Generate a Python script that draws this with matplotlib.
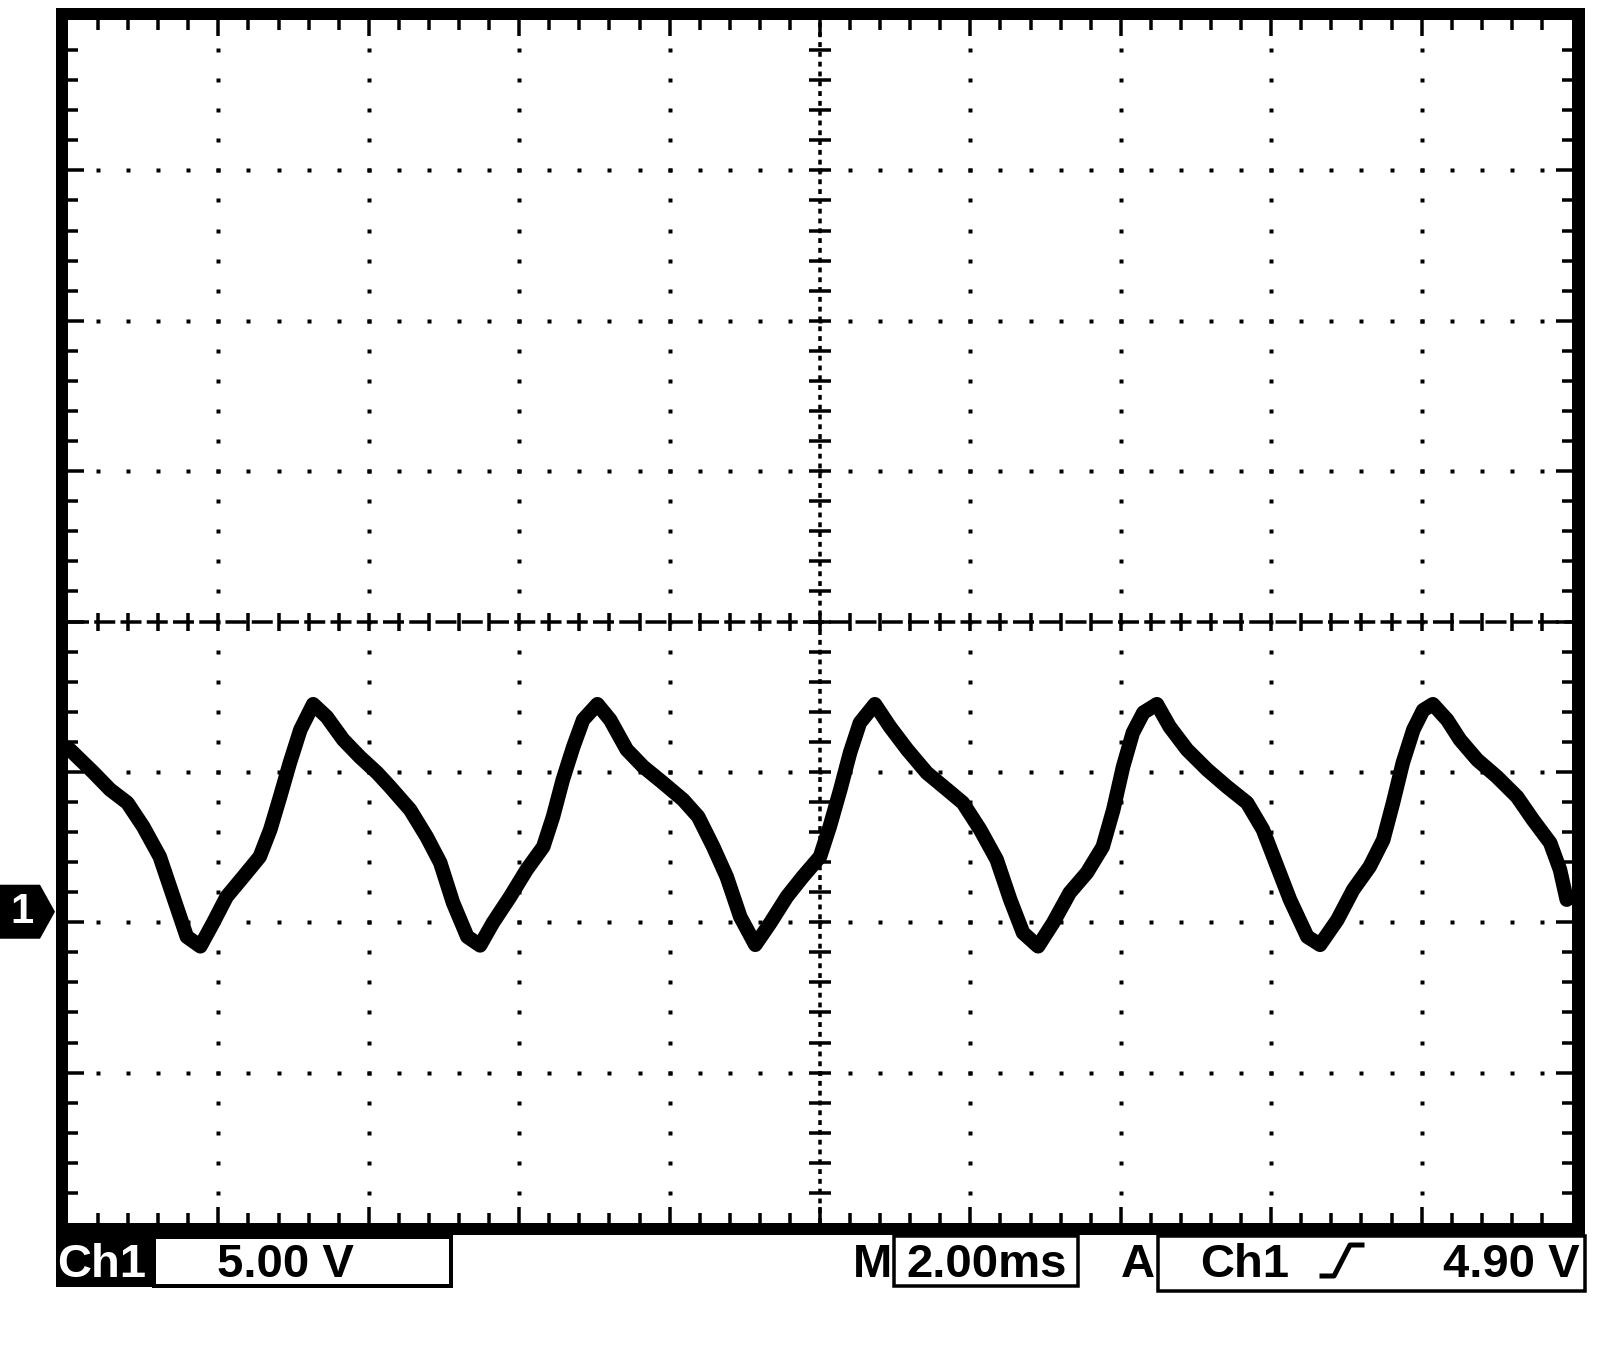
import matplotlib
matplotlib.use("Agg")
import matplotlib.pyplot as plt
from matplotlib.patches import Rectangle, Polygon
from matplotlib.lines import Line2D
from matplotlib.collections import LineCollection

time_ms = [0.00, 0.33, 0.56, 0.79, 1.00, 1.22, 1.40, 1.58, 1.76, 1.93,
           2.11, 2.33, 2.55, 2.69, 2.82, 2.95, 3.09, 3.26, 3.44, 3.66,
           3.88, 4.11, 4.28, 4.55, 4.77, 4.95, 5.12, 5.31, 5.48, 5.65,
           5.88, 6.10, 6.32, 6.45, 6.58, 6.72, 6.85, 7.04, 7.21, 7.43,
           7.65, 7.91, 8.18, 8.38, 8.58, 8.76, 8.94, 9.14, 9.34, 9.56,
           9.77, 10.00, 10.13, 10.27, 10.40, 10.53, 10.73, 10.93, 11.16, 11.42,
           11.69, 11.90, 12.13, 12.35, 12.53, 12.70, 12.90, 13.10, 13.32, 13.55,
           13.76, 13.90, 14.03, 14.16, 14.30, 14.48, 14.65, 14.88, 15.15, 15.41,
           15.68, 15.89, 16.08, 16.25, 16.48, 16.65, 16.88, 17.09, 17.31, 17.49,
           17.62, 17.75, 17.89, 18.02, 18.15, 18.34, 18.51, 18.74, 19.00, 19.27,
           19.48, 19.71, 19.84, 19.93]
volts = [5.45, 4.65, 4.06, 3.62, 2.83, 1.83, 0.50, -0.83, -1.15, -0.37,
         0.50, 1.16, 1.83, 2.73, 3.82, 4.95, 6.05, 6.90, 6.48, 5.72,
         5.15, 4.62, 4.16, 3.39, 2.49, 1.63, 0.30, -0.83, -1.12, -0.37,
         0.50, 1.40, 2.16, 3.16, 4.39, 5.49, 6.38, 6.90, 6.38, 5.39,
         4.82, 4.29, 3.72, 3.16, 2.16, 1.16, -0.17, -1.10, -0.37, 0.50,
         1.16, 1.83, 2.83, 4.06, 5.29, 6.28, 6.90, 6.15, 5.39, 4.62,
         4.06, 3.62, 2.73, 1.73, 0.40, -0.70, -1.15, -0.37, 0.63, 1.30,
         2.16, 3.39, 4.82, 5.95, 6.62, 6.90, 6.15, 5.39, 4.72, 4.16,
         3.62, 2.73, 1.50, 0.40, -0.83, -1.10, -0.27, 0.73, 1.50, 2.39,
         3.62, 4.95, 6.05, 6.70, 6.90, 6.38, 5.72, 5.05, 4.49, 3.82,
         3.06, 2.29, 1.40, 0.40]

channel_label = "Ch1"
volts_div_label = "5.00 V"
timebase_prefix = "M"
timebase_label = "2.00ms"
trigger_mode = "A"
trigger_source = "Ch1"
trigger_level_label = "4.90 V"
ground_marker_label = "1"

VOLTS_PER_DIV = 5.0
MS_PER_DIV = 2.0
N_XDIV, N_YDIV = 10, 8
CH1_OFFSET_DIV = -1.93

# ---------------- figure / geometry helpers ----------------
W, H = 1600, 1360
fig = plt.figure(figsize=(W / 100, H / 100), dpi=100)
fig.patch.set_facecolor("white")

def fx(px):
    return px / W

def fy(py):
    return 1 - py / H

def frect(x0, y0, x1, y1, **kw):
    return Rectangle((fx(x0), fy(y1)), fx(x1) - fx(x0), fy(y0) - fy(y1),
                     transform=fig.transFigure, **kw)

PT = 0.72  # points per pixel at 100 dpi

# outer thick black frame
fig.add_artist(frect(56, 8, 1585, 1235, facecolor="black", edgecolor="none", zorder=-5))

AX_L, AX_T, AX_R, AX_B = 68, 20, 1572, 1223
ax = fig.add_axes([fx(AX_L), fy(AX_B), fx(AX_R) - fx(AX_L), fy(AX_T) - fy(AX_B)])
ax.set_facecolor("white")
for s in ax.spines.values():
    s.set_visible(False)
ax.set_xticks([])
ax.set_yticks([])
ax.set_xlim(0, N_XDIV * MS_PER_DIV)
ax.set_ylim((-N_YDIV / 2 - CH1_OFFSET_DIV) * VOLTS_PER_DIV,
            (N_YDIV / 2 - CH1_OFFSET_DIV) * VOLTS_PER_DIV)

axw, axh = AX_R - AX_L, AX_B - AX_T
dxp = lambda p: p / axw
dyp = lambda p: p / axh

# ---------------- graticule ----------------
dots_x, dots_y = [], []
for k in range(1, N_XDIV):
    if k == N_XDIV // 2:
        continue
    for m in range(1, N_YDIV * 5):
        dots_x.append(k / N_XDIV)
        dots_y.append(m / (N_YDIV * 5))
for j in range(1, N_YDIV):
    if j == N_YDIV // 2:
        continue
    for n in range(1, N_XDIV * 5):
        dots_x.append(n / (N_XDIV * 5))
        dots_y.append(j / N_YDIV)
ax.plot(dots_x, dots_y, ls="none", marker="s", ms=3.6 * PT, color="black",
        mec="none", transform=ax.transAxes, zorder=2)

segs = []
for n in range(1, N_XDIV * 5):
    x = n / (N_XDIV * 5)
    L = 16 if n % 5 == 0 else 10
    segs.append([(x, 1), (x, 1 - dyp(L))])
    segs.append([(x, 0), (x, dyp(L))])
    segs.append([(x, 0.5 - dyp(9)), (x, 0.5 + dyp(9))])
for m in range(1, N_YDIV * 5):
    y = m / (N_YDIV * 5)
    L = 16 if m % 5 == 0 else 10
    segs.append([(0, y), (dxp(L), y)])
    segs.append([(1, y), (1 - dxp(L), y)])
    segs.append([(0.5 - dxp(11), y), (0.5 + dxp(11), y)])
ax.add_collection(LineCollection(segs, colors="black", linewidths=3.5 * PT,
                                 transform=ax.transAxes, zorder=2))

ax.plot([0, 1], [0.5, 0.5], color="black", lw=3.5 * PT, ls=(0, (6, 1.5)),
        transform=ax.transAxes, zorder=2)
ax.plot([0.5, 0.5], [0, 1], color="black", lw=3.5 * PT, ls=(0, (1.4, 1.4)),
        transform=ax.transAxes, zorder=2)

# ---------------- trace ----------------
ax.plot(time_ms, volts, color="black", lw=14.5 * PT, solid_joinstyle="round",
        solid_capstyle="round", zorder=5)

# ---------------- ground marker ----------------
gy_axes = (N_YDIV / 2 + CH1_OFFSET_DIV) / N_YDIV
gy_px = AX_B - gy_axes * axh
poly = [(0, gy_px - 27), (40, gy_px - 27), (55, gy_px), (40, gy_px + 27), (0, gy_px + 27)]
fig.add_artist(Polygon([(fx(a), fy(b)) for a, b in poly], closed=True,
                       facecolor="black", edgecolor="none", transform=fig.transFigure))
fig.text(fx(22), fy(gy_px), ground_marker_label, color="white", fontsize=30,
         fontweight="bold", family="Liberation Sans", ha="center", va="center")

# ---------------- bottom status line ----------------
FS = 34
BASE = 1277
fnt = dict(family="Liberation Sans", fontweight="bold", fontsize=FS, va="baseline")

fig.add_artist(frect(56, 1235, 152, 1287, facecolor="black", edgecolor="none"))
fig.text(fx(102), fy(BASE), channel_label, color="white", ha="center", **fnt)

fig.add_artist(frect(154, 1237, 451, 1286, facecolor="none", edgecolor="black", lw=4 * PT))
fig.text(fx(285), fy(BASE), volts_div_label, color="black", ha="center", **fnt)

fig.text(fx(872), fy(BASE), timebase_prefix, color="black", ha="center", **fnt)
fig.add_artist(frect(894, 1236, 1078, 1286, facecolor="none", edgecolor="black", lw=3.5 * PT))
fig.text(fx(987), fy(BASE), timebase_label, color="black", ha="center", **fnt)

fig.text(fx(1138), fy(BASE), trigger_mode, color="black", ha="center", **fnt)
fig.add_artist(frect(1158, 1236, 1585, 1291, facecolor="none", edgecolor="black", lw=3.5 * PT))
fig.text(fx(1245), fy(BASE), trigger_source, color="black", ha="center", **fnt)
edge = [(1322, 1276), (1334, 1276), (1350, 1245), (1362, 1245)]
fig.add_artist(Line2D([fx(a) for a, b in edge], [fy(b) for a, b in edge], color="black",
                      lw=5 * PT, transform=fig.transFigure))
fig.text(fx(1580), fy(BASE), trigger_level_label, color="black", ha="right", **fnt)

fig.savefig("out.png", dpi=100, facecolor="white")
